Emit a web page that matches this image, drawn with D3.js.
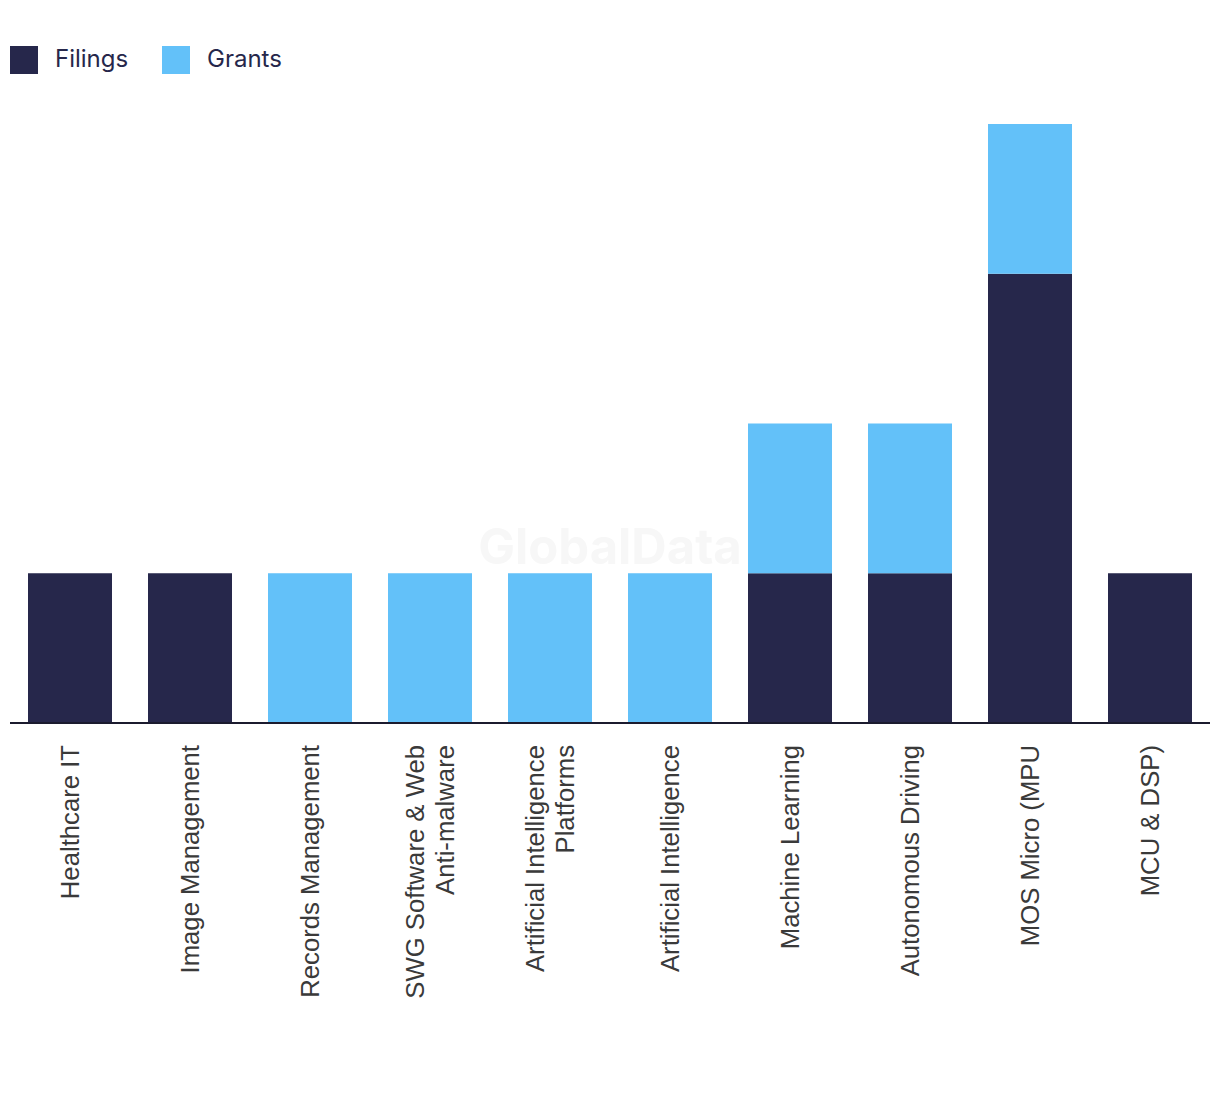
<!DOCTYPE html>
<html>
<head>
<meta charset="utf-8">
<script src="https://cdn.jsdelivr.net/npm/d3@7"></script>
<style>
  body { margin: 0; background: #fff; }
  svg { display: block; }
</style>
</head>
<body>
<svg id="chart" width="1220" height="1094"></svg>
<script>
const categories = [
  ["Healthcare IT"],
  ["Image Management"],
  ["Records Management"],
  ["SWG Software & Web", "Anti-malware"],
  ["Artificial Intelligence", "Platforms"],
  ["Artificial Intelligence"],
  ["Machine Learning"],
  ["Autonomous Driving"],
  ["MOS Micro (MPU"],
  ["MCU & DSP)"]
];
const filings = [1, 1, 0, 0, 0, 0, 1, 1, 3, 1];
const grants  = [0, 0, 1, 1, 1, 1, 1, 1, 1, 0];
const seriesNames = ["Filings", "Grants"];
const colors = ["#26274b", "#63c1f9"];

const svg = d3.select("#chart");
const keys = categories.map((c, i) => i);
const table = keys.map(i => ({ idx: i, Filings: filings[i], Grants: grants[i] }));

const x = d3.scaleBand().domain(keys).range([10, 1210]).paddingInner(0.3).paddingOuter(0.15);
const y = d3.scaleLinear().domain([0, 4]).range([723, 124]);

// watermark
svg.append("text")
  .attr("x", 610).attr("y", 564)
  .attr("text-anchor", "middle")
  .attr("font-family", "Inter, Roboto, sans-serif")
  .attr("font-weight", 700)
  .attr("font-size", 49)
  .attr("fill", "#f7f7f7")
  .text("GlobalData");

const stack = d3.stack().keys(seriesNames)(table);
svg.append("g").selectAll("g")
  .data(stack).join("g")
  .attr("fill", (d, i) => colors[i])
  .selectAll("rect")
  .data(d => d).join("rect")
  .attr("x", d => x(d.data.idx))
  .attr("width", x.bandwidth())
  .attr("y", d => y(d[1]))
  .attr("height", d => y(d[0]) - y(d[1]));

// axis
const axis = svg.append("g").attr("transform", "translate(0,723)")
  .call(d3.axisBottom(x).tickSize(0).tickFormat(""));
axis.select(".domain").attr("stroke", "#1b1b2e").attr("stroke-width", 2).attr("d", "M10,0H1210");

const labels = svg.append("g");
keys.forEach(i => {
  const lines = categories[i];
  const cx = x(i) + x.bandwidth() / 2;
  const lh = 30;
  lines.forEach((ln, j) => {
    const off = (j - (lines.length - 1) / 2) * lh;
    labels.append("text")
      .attr("transform", `translate(${cx + off + 9},745) rotate(-90)`)
      .attr("text-anchor", "end")
      .attr("font-family", "'Liberation Sans', Arial, sans-serif")
      .attr("font-size", 25.7)
      .attr("fill", "#3a3a3a")
      .text(ln);
  });
});

// legend
const legend = svg.append("g");
const lx = [10, 162];
seriesNames.forEach((n, i) => {
  legend.append("rect").attr("x", lx[i]).attr("y", 46).attr("width", 28).attr("height", 28).attr("fill", colors[i]);
  legend.append("text").attr("x", lx[i] + 45).attr("y", 67)
    .attr("font-family", "Inter, Roboto, sans-serif")
    .attr("font-size", 24)
    .attr("fill", "#26274b")
    .text(n);
});
</script>
</body>
</html>
